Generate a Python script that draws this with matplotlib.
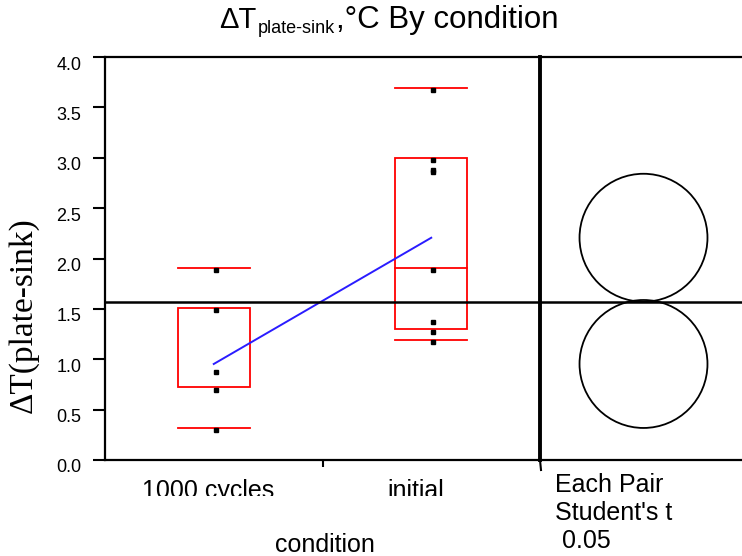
import numpy as np
import matplotlib
matplotlib.use("Agg")
import matplotlib.pyplot as plt
from matplotlib.patches import Rectangle, Circle
from matplotlib.lines import Line2D
from matplotlib.transforms import ScaledTranslation, Bbox, TransformedBbox

plt.rcParams['font.family'] = ['Liberation Sans', 'DejaVu Sans']

# ---------------- data ----------------
categories = ["1000 cycles", "initial"]
pts_1000 = [1.886, 1.489, 0.876, 0.698, 0.298]
pts_initial = [3.675, 2.978, 2.878, 2.859, 1.886, 1.373, 1.273, 1.174]
box_q3 = [1.509, 2.998]
box_med = [None, 1.906]
box_q1 = [0.722, 1.297]
whisk_hi = [1.909, 3.695]
whisk_lo = [0.321, 1.194]
group_means = [0.953, 2.206]
grand_mean = 1.573
circle_radius = [0.635, 0.635]
yticks = [0.0, 0.5, 1.0, 1.5, 2.0, 2.5, 3.0, 3.5, 4.0]
title_parts = ["ΔT", "plate-sink", ",°C By condition"]
ylabel_text = "ΔT(plate-sink)"
xlabel_text = "condition"
compare_text = ["Each Pair", "Student's t", " 0.05"]

W, H = 742, 556
fig = plt.figure(figsize=(W / 100, H / 100), dpi=100)

def fx(px):
    return px / W

def fy(py):
    return (H - py) / H

ax = fig.add_axes([fx(105), fy(460), fx(540) - fx(105), fy(57) - fy(460)])
ax2 = fig.add_axes([fx(540), fy(460), fx(742) - fx(540), fy(57) - fy(460)])
ax2.patch.set_visible(False)

ax.set_xlim(-0.5, 1.5)
ax.set_ylim(0, 4)
ax2.set_ylim(0, 4)
ax2.set_xlim(0, 202 / 100.75)

for a in (ax, ax2):
    a.set_facecolor('white')
    for s in a.spines.values():
        s.set_linewidth(1.6)
        s.set_color('black')

ax.spines['right'].set_linewidth(2.8)
ax2.spines['left'].set_visible(False)
ax2.spines['right'].set_visible(False)
ax2.set_xticks([])
ax2.set_yticks([])

# boxes
hw = 0.165
for i in range(len(categories)):
    ax.add_patch(Rectangle((i - hw, box_q1[i]), 2 * hw, box_q3[i] - box_q1[i],
                           fill=False, edgecolor='#ff0000', lw=1.3, zorder=2))
    if box_med[i] is not None:
        ax.plot([i - hw, i + hw], [box_med[i], box_med[i]], color='#ff0000', lw=1.3, zorder=2)
    ax.plot([i - hw, i + hw], [whisk_hi[i], whisk_hi[i]], color='#ff0000', lw=1.3, zorder=2)
    ax.plot([i - hw, i + hw], [whisk_lo[i], whisk_lo[i]], color='#ff0000', lw=1.3, zorder=2)

# points
ax.plot(np.full(len(pts_1000), 0.01), pts_1000, 's', color='black', ms=2.6, zorder=4)
ax.plot(np.full(len(pts_initial), 1.01), pts_initial, 's', color='black', ms=2.6, zorder=4)

# means line
ax.plot([0, 1], group_means, color='#2a1cff', lw=1.4, zorder=3)

# grand mean
ax.axhline(grand_mean, color='black', lw=1.8, zorder=3)
ax2.axhline(grand_mean, color='black', lw=1.8, zorder=3)

# comparison circles
cx = 103.5 / 100.75
for m, r in zip(group_means, circle_radius):
    ax2.add_patch(Circle((cx, m), r, fill=False, edgecolor='black', lw=1.3, zorder=2))

# ticks
ax.set_yticks(yticks)
ax.set_yticklabels([f"{v:.1f}" for v in yticks])
ax.tick_params(axis='y', direction='out', length=9, width=1.5, labelsize=13, pad=8)
off = ScaledTranslation(0, -6 / 100, fig.dpi_scale_trans)
for lab in ax.get_yticklabels():
    lab.set_transform(lab.get_transform() + off)
ax.set_xticks([0.5])
ax.set_xticklabels([""])
ax.tick_params(axis='x', direction='out', length=5, width=1.5)

# divider extension below axis
fig.add_artist(Line2D([fx(540), fx(541)], [fy(460), fy(470)], color='black', lw=1.5))

# category labels (clipped at bottom like reference)
clipbox = TransformedBbox(Bbox.from_extents(0, fy(496), 1, 1), fig.transFigure)
for name, px in zip(categories, [208, 416]):
    t = fig.text(fx(px), fy(498), name, ha='center', va='baseline', fontsize=18)
    t.set_clip_box(clipbox)
    t.set_clip_on(True)

fig.text(fx(325), fy(552), xlabel_text, ha='center', va='baseline', fontsize=18)

for k, line in enumerate(compare_text):
    fig.text(fx(555), fy(492 + 28 * k), line, ha='left', va='baseline', fontsize=18)

fig.text(fx(23), fy(315), ylabel_text, rotation=90, ha='center', va='center',
         fontsize=24, family=['Liberation Serif', 'DejaVu Serif'])

# title in three pieces (main, subscript, rest)
fig.text(fx(219), fy(28), title_parts[0], ha='left', va='baseline', fontsize=21)
fig.text(fx(258), fy(33), title_parts[1], ha='left', va='baseline', fontsize=13)
fig.text(fx(336), fy(28), title_parts[2], ha='left', va='baseline', fontsize=22.5)

fig.savefig("out.png", dpi=100)
